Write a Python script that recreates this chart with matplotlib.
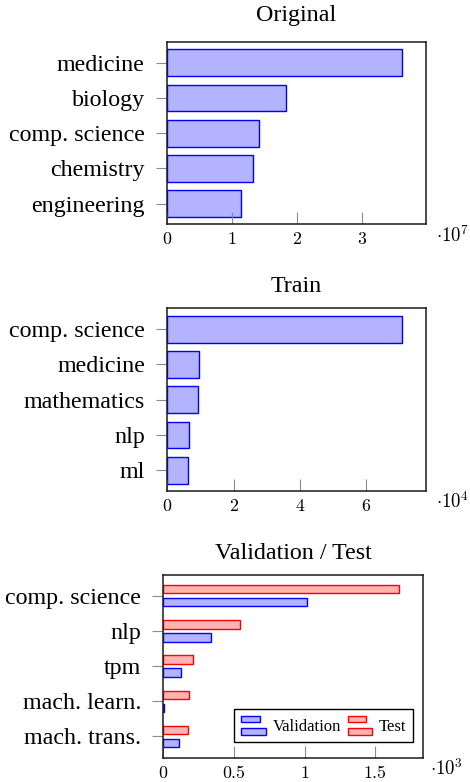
import numpy as np
import matplotlib
matplotlib.use("Agg")
import matplotlib.pyplot as plt
from matplotlib.ticker import FuncFormatter, FixedLocator
from matplotlib.legend_handler import HandlerBase
from matplotlib.patches import Rectangle

plt.rcParams['font.family'] = ['Liberation Serif', 'DejaVu Serif']
plt.rcParams['mathtext.fontset'] = 'cm'

# ---------------- data ----------------
orig_categories = ["medicine", "biology", "comp. science", "chemistry", "engineering"]
orig_values = [3.62, 1.835, 1.42, 1.33, 1.143]          # x 10^7

train_categories = ["comp. science", "medicine", "mathematics", "nlp", "ml"]
train_values = [7.085, 0.965, 0.925, 0.645, 0.633]      # x 10^4

vt_categories = ["comp. science", "nlp", "tpm", "mach. learn.", "mach. trans."]
val_values = [1.015, 0.335, 0.123, 0.004, 0.113]        # x 10^3
test_values = [1.667, 0.545, 0.2125, 0.18, 0.173]       # x 10^3

orig_xticks = [0, 1, 2, 3]
train_xticks = [0, 2, 4, 6]
vt_xticks = [0, 0.5, 1, 1.5]

# ---------------- style ----------------
BLUE_E, BLUE_F = "#0000FF", "#B3B3FF"
RED_E, RED_F = "#FF0000", "#FFB3B3"
LBL = 17.3
TICK = 12.8
PX = 0.72  # points per pixel at dpi 100

fig = plt.figure(figsize=(4.7, 7.82), dpi=100)
W, H = 470.0, 782.0


def make_ax(left, right, top, bottom):
    return fig.add_axes([left / W, 1 - bottom / H, (right - left) / W, (bottom - top) / H])


def style(ax, xlim, xticks, exp, mult_dx, title, title_pad_px):
    ax.set_xlim(*xlim)
    ax.xaxis.set_major_locator(FixedLocator(xticks))
    ax.xaxis.set_major_formatter(FuncFormatter(lambda v, p: r"$%s$" % ("%g" % v)))
    for s in ax.spines.values():
        s.set_linewidth(1.1)
        s.set_color("0.1")
    ax.tick_params(axis="x", direction="in", length=11.7 * PX, width=0.8,
                   color="0.55", labelsize=TICK, pad=5.0, top=False)
    ax.tick_params(axis="y", direction="out", length=11 * PX, width=0.8,
                   color="0.55", labelsize=LBL, pad=8, right=False)
    ax.set_title(title, fontsize=LBL, pad=title_pad_px * PX)
    ax.annotate(r"$\cdot 10^{%d}$" % exp, xy=(1, 0), xycoords="axes fraction",
                xytext=(mult_dx * PX, -17.5 * PX), textcoords="offset points",
                ha="left", va="baseline", fontsize=13.5)


# ---- Original ----
ax1 = make_ax(167, 426, 42, 224.3)
y1 = np.arange(len(orig_categories))
ax1.barh(y1, orig_values, height=0.76, color=BLUE_F, edgecolor=BLUE_E, linewidth=1.0)
ax1.set_yticks(y1)
ax1.set_yticklabels(orig_categories)
ax1.set_ylim(len(orig_categories) - 1 + 0.59, -0.59)
style(ax1, (0, 3.985), orig_xticks, 7, 10, "Original", 20.5)

# ---- Train ----
ax2 = make_ax(167.3, 426, 308.3, 491)
y2 = np.arange(len(train_categories))
ax2.barh(y2, train_values, height=0.76, color=BLUE_F, edgecolor=BLUE_E, linewidth=1.0)
ax2.set_yticks(y2)
ax2.set_yticklabels(train_categories)
ax2.set_ylim(len(train_categories) - 1 + 0.59, -0.59)
style(ax2, (0, 7.8), train_xticks, 4, 9.5, "Train", 16)

# ---- Validation / Test ----
ax3 = make_ax(163.3, 422.7, 574.7, 757.7)
y3 = np.arange(len(vt_categories))
off, bh = 0.185, 0.235
bv = ax3.barh(y3 + off, val_values, height=bh, color=BLUE_F, edgecolor=BLUE_E, linewidth=1.0)
bt = ax3.barh(y3 - off, test_values, height=bh, color=RED_F, edgecolor=RED_E, linewidth=1.0)
ax3.set_yticks(y3)
ax3.set_yticklabels(vt_categories)
ax3.set_ylim(len(vt_categories) - 1 + 0.605, -0.6)
style(ax3, (0, 1.837), vt_xticks, 3, 7, "Validation / Test", 15.4)


class DoubleBarHandler(HandlerBase):
    def create_artists(self, legend, orig_handle, xdescent, ydescent, width, height,
                       fontsize, trans):
        p = orig_handle.patches[0]
        fc, ec = p.get_facecolor(), p.get_edgecolor()
        x0, y0 = -xdescent, -ydescent
        top = Rectangle((x0, y0 + 0.68 * height), 0.76 * width, 0.32 * height,
                        facecolor=fc, edgecolor=ec, linewidth=1.0, transform=trans)
        bot = Rectangle((x0, y0), width, 0.34 * height,
                        facecolor=fc, edgecolor=ec, linewidth=1.0, transform=trans)
        return [top, bot]


h = DoubleBarHandler()
leg = ax3.legend([bv, bt], ["Validation", "Test"], handler_map={bv: h, bt: h},
                 loc="lower right", bbox_to_anchor=(0.964, 0.087), borderaxespad=0,
                 ncol=2, fontsize=12, handlelength=1.45, handleheight=1.4,
                 handletextpad=0.42, columnspacing=0.4, borderpad=0.42,
                 fancybox=False, framealpha=1, edgecolor="black")
leg.get_frame().set_linewidth(1.0)

fig.savefig("out.png", dpi=100)
